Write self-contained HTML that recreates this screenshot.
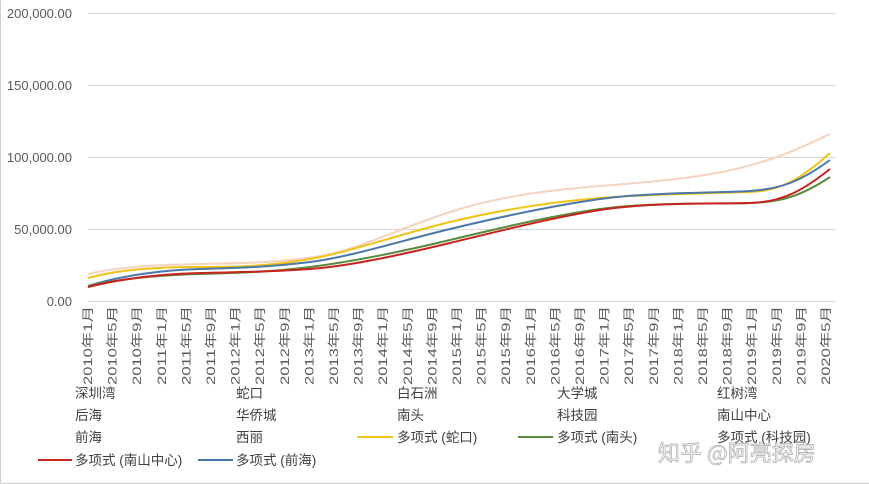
<!DOCTYPE html>
<html><head><meta charset="utf-8"><style>
body{margin:0;background:#fff;width:869px;height:484px;overflow:hidden;font-family:"Liberation Sans","Noto Sans CJK SC",sans-serif;}
</style></head><body>
<svg width="869" height="484" xmlns="http://www.w3.org/2000/svg" style="position:absolute;left:0;top:0">
<line x1="0.5" y1="0" x2="0.5" y2="484" stroke="#d0d0d0"/>
<line x1="0" y1="483.5" x2="869" y2="483.5" stroke="#d0d0d0"/>
<g stroke="#d9d9d9" stroke-width="1">
<line x1="88" y1="13.5" x2="836" y2="13.5"/><line x1="88" y1="85.5" x2="836" y2="85.5"/><line x1="88" y1="157.5" x2="836" y2="157.5"/><line x1="88" y1="229.5" x2="836" y2="229.5"/><line x1="88" y1="301.5" x2="836" y2="301.5"/>
</g>
<g font-family="Liberation Sans, sans-serif" font-size="13" fill="#595959" text-anchor="end">
<text x="72" y="18">200,000.00</text><text x="72" y="90">150,000.00</text><text x="72" y="162">100,000.00</text><text x="72" y="234">50,000.00</text><text x="72" y="306">0.00</text>
</g>
<g fill="none" stroke-width="2" stroke-linejoin="round">
<path stroke="#f4d3c0" d="M88,274 C120,266 160,265 200,264 S280,263 320,256 S400,228 450,212 S550,190 600,186 S700,178 740,168 S800,148 830,134"/>
<path stroke="#f2c314" d="M88,278 C120,269 160,267 200,267 S270,266 310,259 S400,234 450,222 S550,202 600,198 S720,193 750,192 S800,180 830,153"/>
<path stroke="#4a78a8" d="M88,286 C120,276 160,270 200,269 S270,267 310,262 S400,241 450,229 S550,206 600,199 S720,193 750,191 S800,182 830,160"/>
<path stroke="#5b8a3c" d="M88,286 C120,279 160,275 200,274 S270,272 310,267 S400,252 450,240 S550,216 600,209 S720,204 750,203 S800,197 830,177"/>
<path stroke="#c8231f" d="M88,287 C120,279 160,274 200,273 S270,272 310,269 S400,255 450,243 S550,218 600,210 S720,204 750,203 S800,193 830,169"/>
</g>
<g font-family="Liberation Sans, Noto Sans CJK SC, sans-serif" font-size="12" fill="#595959">
<text textLength="79" lengthAdjust="spacingAndGlyphs" transform="translate(92,385) rotate(-90)">2010年1月</text><text textLength="79" lengthAdjust="spacingAndGlyphs" transform="translate(116.6,385) rotate(-90)">2010年5月</text><text textLength="79" lengthAdjust="spacingAndGlyphs" transform="translate(141.2,385) rotate(-90)">2010年9月</text><text textLength="79" lengthAdjust="spacingAndGlyphs" transform="translate(165.8,385) rotate(-90)">2011年1月</text><text textLength="79" lengthAdjust="spacingAndGlyphs" transform="translate(190.4,385) rotate(-90)">2011年5月</text><text textLength="79" lengthAdjust="spacingAndGlyphs" transform="translate(215,385) rotate(-90)">2011年9月</text><text textLength="79" lengthAdjust="spacingAndGlyphs" transform="translate(239.6,385) rotate(-90)">2012年1月</text><text textLength="79" lengthAdjust="spacingAndGlyphs" transform="translate(264.2,385) rotate(-90)">2012年5月</text><text textLength="79" lengthAdjust="spacingAndGlyphs" transform="translate(288.8,385) rotate(-90)">2012年9月</text><text textLength="79" lengthAdjust="spacingAndGlyphs" transform="translate(313.4,385) rotate(-90)">2013年1月</text><text textLength="79" lengthAdjust="spacingAndGlyphs" transform="translate(338,385) rotate(-90)">2013年5月</text><text textLength="79" lengthAdjust="spacingAndGlyphs" transform="translate(362.6,385) rotate(-90)">2013年9月</text><text textLength="79" lengthAdjust="spacingAndGlyphs" transform="translate(387.2,385) rotate(-90)">2014年1月</text><text textLength="79" lengthAdjust="spacingAndGlyphs" transform="translate(411.8,385) rotate(-90)">2014年5月</text><text textLength="79" lengthAdjust="spacingAndGlyphs" transform="translate(436.4,385) rotate(-90)">2014年9月</text><text textLength="79" lengthAdjust="spacingAndGlyphs" transform="translate(461,385) rotate(-90)">2015年1月</text><text textLength="79" lengthAdjust="spacingAndGlyphs" transform="translate(485.6,385) rotate(-90)">2015年5月</text><text textLength="79" lengthAdjust="spacingAndGlyphs" transform="translate(510.2,385) rotate(-90)">2015年9月</text><text textLength="79" lengthAdjust="spacingAndGlyphs" transform="translate(534.8,385) rotate(-90)">2016年1月</text><text textLength="79" lengthAdjust="spacingAndGlyphs" transform="translate(559.4,385) rotate(-90)">2016年5月</text><text textLength="79" lengthAdjust="spacingAndGlyphs" transform="translate(584,385) rotate(-90)">2016年9月</text><text textLength="79" lengthAdjust="spacingAndGlyphs" transform="translate(608.6,385) rotate(-90)">2017年1月</text><text textLength="79" lengthAdjust="spacingAndGlyphs" transform="translate(633.2,385) rotate(-90)">2017年5月</text><text textLength="79" lengthAdjust="spacingAndGlyphs" transform="translate(657.8,385) rotate(-90)">2017年9月</text><text textLength="79" lengthAdjust="spacingAndGlyphs" transform="translate(682.4,385) rotate(-90)">2018年1月</text><text textLength="79" lengthAdjust="spacingAndGlyphs" transform="translate(707,385) rotate(-90)">2018年5月</text><text textLength="79" lengthAdjust="spacingAndGlyphs" transform="translate(731.6,385) rotate(-90)">2018年9月</text><text textLength="79" lengthAdjust="spacingAndGlyphs" transform="translate(756.2,385) rotate(-90)">2019年1月</text><text textLength="79" lengthAdjust="spacingAndGlyphs" transform="translate(780.8,385) rotate(-90)">2019年5月</text><text textLength="79" lengthAdjust="spacingAndGlyphs" transform="translate(805.4,385) rotate(-90)">2019年9月</text><text textLength="79" lengthAdjust="spacingAndGlyphs" transform="translate(830,385) rotate(-90)">2020年5月</text>
</g>
<g font-family="Liberation Sans, Noto Sans CJK SC, sans-serif" font-size="13.5" fill="#404040">
<text x="75" y="398">深圳湾</text><text x="236" y="398">蛇口</text><text x="397" y="398">白石洲</text><text x="557" y="398">大学城</text><text x="717" y="398">红树湾</text>
<text x="75" y="420">后海</text><text x="236" y="420">华侨城</text><text x="397" y="420">南头</text><text x="557" y="420">科技园</text><text x="717" y="420">南山中心</text>
<text x="75" y="442">前海</text><text x="236" y="442">西丽</text><text x="397" y="442">多项式 (蛇口)</text><text x="557" y="442">多项式 (南头)</text><text x="717" y="442">多项式 (科技园)</text>
<text x="75" y="465">多项式 (南山中心)</text><text x="236" y="465">多项式 (前海)</text>
</g>
<g stroke-width="2">
<line x1="357" y1="437" x2="393" y2="437" stroke="#f2c314"/>
<line x1="518" y1="437" x2="553" y2="437" stroke="#5b8a3c"/>
<line x1="38" y1="460" x2="72" y2="460" stroke="#c8231f"/>
<line x1="198" y1="460" x2="233" y2="460" stroke="#4a78a8"/>
</g>
<text x="658" y="461" font-family="Noto Sans CJK SC, sans-serif" font-size="22" fill="#fff" stroke="#a0a0a0" stroke-width="0.7" opacity="0.9">知乎 @阿亮探房</text>
</svg>
</body></html>
